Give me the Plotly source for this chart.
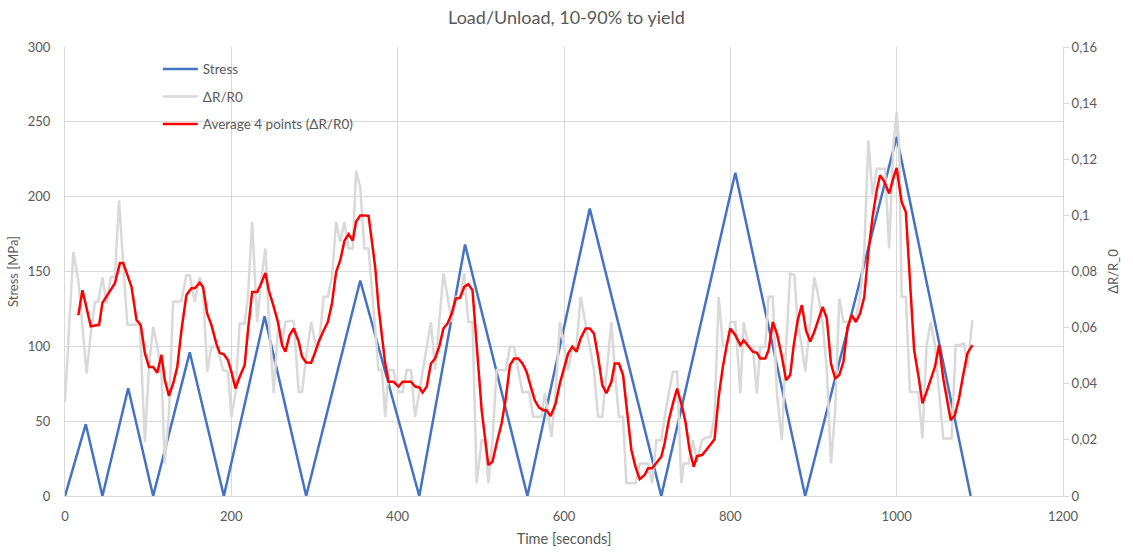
import plotly.graph_objects as go

# ---- Data ----
stress_t = [0, 25, 45, 76, 106, 150, 191, 240, 290, 355, 426, 481, 556, 631, 717, 806, 890, 1000, 1089]
stress_v = [0, 48, 0, 72, 0, 96, 0, 120, 0, 144, 0, 168, 0, 192, 0, 216, 0, 240, 0]

dr_t = [0, 10, 16, 20, 26, 31, 36, 40, 45, 50, 55, 60, 65, 70, 75, 80, 85, 90, 96, 101, 106, 111, 116, 120,
        125, 130, 135, 140, 146, 150, 156, 162, 166, 171, 176, 182, 185, 190, 196, 200, 205, 210, 216, 220,
        225, 231, 235, 241, 245, 251, 256, 261, 265, 270, 275, 281, 285, 290, 296, 301, 305, 311, 316, 321,
        326, 331, 336, 341, 346, 350, 355, 360, 365, 371, 377, 381, 385, 389, 395, 401, 406, 411, 416, 421,
        426, 430, 435, 440, 445, 450, 455, 460, 465, 470, 475, 480, 485, 490, 495, 501, 505, 509, 514, 519,
        525, 530, 535, 540, 545, 550, 555, 558, 563, 568, 573, 577, 581, 585, 590, 595, 600, 605, 610, 615,
        620, 626, 631, 636, 641, 646, 651, 657, 661, 666, 671, 675, 681, 686, 691, 697, 701, 706, 711, 717,
        721, 726, 731, 736, 741, 744, 750, 755, 760, 766, 771, 776, 781, 786, 791, 796, 800, 806, 812, 816,
        822, 827, 832, 836, 842, 846, 851, 856, 862, 867, 872, 877, 881, 886, 890, 896, 901, 906, 911, 916,
        921, 926, 931, 936, 941, 946, 951, 956, 961, 966, 971, 976, 981, 986, 991, 996, 1000, 1003, 1006, 1011,
        1016, 1021, 1026, 1031, 1036, 1041, 1046, 1051, 1056, 1061, 1066, 1071, 1076, 1081, 1085, 1091]
dr_v = [0.0336, 0.087, 0.0769, 0.0638, 0.0437, 0.058, 0.0692, 0.0692, 0.078, 0.0686, 0.078, 0.078, 0.1054, 0.0828,
        0.061, 0.061, 0.061, 0.061, 0.0193, 0.046, 0.0603, 0.0532, 0.0437, 0.0116,
        0.0294, 0.0692, 0.0692, 0.0695, 0.0787, 0.0787, 0.0692, 0.078, 0.0733, 0.0443, 0.0532, 0.0532, 0.051, 0.0449,
        0.0443, 0.0282, 0.0366, 0.0615, 0.0615, 0.071,
        0.0977, 0.062, 0.0745, 0.0882, 0.0638, 0.0366, 0.0591, 0.0544, 0.062, 0.0624, 0.0624, 0.0371, 0.0371, 0.0496,
        0.062, 0.0544, 0.0526, 0.071, 0.071, 0.078,
        0.0977, 0.0905, 0.0977, 0.0882, 0.0882, 0.116, 0.110, 0.0882, 0.0882, 0.068, 0.0449, 0.0449, 0.0282, 0.0449,
        0.0449, 0.0371, 0.0371, 0.0449, 0.0449, 0.0282,
        0.0371, 0.0449, 0.0532, 0.062, 0.0449, 0.062, 0.0793, 0.071, 0.062, 0.071, 0.071, 0.0793, 0.062, 0.062,
        0.0045, 0.0199, 0.0199, 0.0045, 0.0199, 0.0449,
        0.0449, 0.0449, 0.0532, 0.0532, 0.0449, 0.0371, 0.0371, 0.0371, 0.0282, 0.0282, 0.0282, 0.0366, 0.0282, 0.0211,
        0.0371, 0.062, 0.0532, 0.0449, 0.0532, 0.0532,
        0.071, 0.062, 0.0532, 0.0449, 0.0282, 0.0282, 0.0449, 0.062, 0.0449, 0.0282, 0.0282, 0.0045, 0.0045, 0.0045,
        0.0116, 0.0116, 0.0116, 0.0045, 0.0199, 0.0199,
        0.0282, 0.0366, 0.0443, 0.0443, 0.0045, 0.0116, 0.0116, 0.0199, 0.0122, 0.0199, 0.0209, 0.0209, 0.0282, 0.071,
        0.0538, 0.0532, 0.062, 0.062, 0.0366, 0.062,
        0.0532, 0.0532, 0.0366, 0.0532, 0.0532, 0.071, 0.071, 0.0366, 0.0199, 0.0532, 0.0793, 0.0787, 0.0615, 0.0532,
        0.0443, 0.0615, 0.078, 0.071, 0.0615, 0.0449,
        0.0116, 0.03, 0.0704, 0.062, 0.062, 0.0633, 0.0633, 0.071, 0.087, 0.1267, 0.1072, 0.1166, 0.1166, 0.1166,
        0.0882, 0.125, 0.1368, 0.125, 0.071, 0.071,
        0.0371, 0.0371, 0.0371, 0.0205, 0.0538, 0.062, 0.0538, 0.0371, 0.0205, 0.0205, 0.0205, 0.0538, 0.0538, 0.0544,
        0.0455, 0.0627]

avg_t = [16, 21, 31, 41, 45, 50, 55, 60, 66, 70, 80, 86, 91, 96, 101, 106, 111, 116, 120, 125, 130, 135, 140, 146,
         152, 156, 162, 166, 171, 176, 182, 186, 191, 196, 200, 205, 210, 216, 220, 225, 231, 235, 241, 245, 251,
         256, 261, 265, 270, 275, 281, 285, 290, 296, 301, 305, 311, 316, 321, 326, 331, 336, 341, 346, 350, 355,
         360, 365, 373, 377, 385, 389, 395, 401, 406, 411, 416, 421, 426, 430, 435, 440, 445, 450, 455, 460, 465,
         470, 475, 480, 485, 490, 495, 501, 509, 514, 519, 525, 530, 535, 540, 545, 550, 555, 560, 565, 570, 575,
         579, 584, 590, 595, 600, 605, 610, 615, 620, 626, 631, 636, 641, 646, 651, 657, 661, 666, 671, 675, 681,
         686, 691, 697, 701, 706, 711, 717, 721, 726, 731, 736, 742, 746, 751, 756, 760, 766, 771, 776, 781, 786,
         791, 796, 800, 806, 812, 816, 822, 827, 832, 836, 842, 846, 851, 856, 862, 867, 872, 876, 881, 886, 891,
         896, 901, 906, 911, 916, 921, 926, 931, 936, 941, 946, 951, 956, 961, 966, 971, 976, 980, 985, 991, 996,
         1000, 1003, 1006, 1011, 1016, 1021, 1026, 1031, 1036, 1041, 1046, 1051, 1056, 1061, 1065, 1070, 1075,
         1080, 1085, 1091]
avg_v = [0.0644, 0.0733, 0.0605, 0.061, 0.0688, 0.071, 0.0735, 0.0758, 0.083, 0.083, 0.0745, 0.0627, 0.061, 0.051,
         0.046, 0.046, 0.0439, 0.0503, 0.0413, 0.0357, 0.040, 0.046, 0.059, 0.0716,
         0.074, 0.074, 0.076, 0.0745, 0.065, 0.061, 0.0543, 0.051, 0.0505, 0.0484, 0.0443, 0.0383, 0.0425, 0.0466,
         0.059, 0.0727, 0.0727, 0.0751, 0.0795, 0.0733, 0.0674,
         0.062, 0.0538, 0.0514, 0.0573, 0.0597, 0.055, 0.0496, 0.0476, 0.0475, 0.0514, 0.055, 0.059, 0.062, 0.0686,
         0.0798, 0.084, 0.091, 0.0933, 0.091, 0.0977, 0.1,
         0.1, 0.0998, 0.0816, 0.0674, 0.0472, 0.0407, 0.0407, 0.039, 0.0407, 0.0407, 0.0407, 0.039, 0.0387, 0.0369,
         0.039, 0.0472, 0.049, 0.0532, 0.0597, 0.0615, 0.065,
         0.0704, 0.0706, 0.0745, 0.0755, 0.0733, 0.0543, 0.0306, 0.011, 0.0122, 0.0188, 0.0259, 0.0348, 0.0466, 0.049,
         0.049, 0.0472, 0.0443, 0.039, 0.034, 0.0315, 0.0306,
         0.0306, 0.0285, 0.033, 0.0401, 0.0455, 0.0508, 0.0532, 0.0514, 0.0561, 0.0597, 0.0597, 0.0579, 0.0496, 0.0395,
         0.0366, 0.0407, 0.0472, 0.0472, 0.0431, 0.033, 0.0164,
         0.0104, 0.006, 0.0075, 0.0099, 0.0099, 0.0116, 0.014, 0.0188, 0.027, 0.033, 0.0383, 0.0318, 0.0265, 0.0164,
         0.0104, 0.0142, 0.0146, 0.0164, 0.0182, 0.0202, 0.0353,
         0.046, 0.0543, 0.0597, 0.0573, 0.0538, 0.0555, 0.0532, 0.0514, 0.051, 0.049, 0.049, 0.052, 0.062, 0.0579,
         0.0496, 0.0413, 0.0431, 0.0532, 0.0627, 0.068, 0.059,
         0.055, 0.0585, 0.0627, 0.0674, 0.0633, 0.0472, 0.0419, 0.0431, 0.0478, 0.0603, 0.0644, 0.062, 0.065, 0.0709,
         0.087, 0.0994, 0.1089, 0.1143, 0.1121, 0.1078, 0.1133,
         0.1169, 0.1107, 0.1048, 0.1012, 0.0751, 0.052, 0.0431, 0.033, 0.0371, 0.0419, 0.046, 0.0538, 0.0419, 0.0336,
         0.027, 0.0288, 0.0348,
         0.0431, 0.0508, 0.0538]

x_ticks = [0, 200, 400, 600, 800, 1000, 1200]

# ---- Figure ----
FONT = "Lato, 'Open Sans', sans-serif"
TXT = "#595959"
GRID = "#d9d9d9"

fig = go.Figure()
fig.add_trace(go.Scatter(x=dr_t, y=dr_v, name="ΔR/R0", mode="lines", yaxis="y2", legendgroup="g2",
                         line=dict(color="#d9d9d9", width=2.5), legendrank=2))
fig.add_trace(go.Scatter(x=stress_t, y=stress_v, name="Stress", mode="lines", legendgroup="g1",
                         line=dict(color="#4472C4", width=2.5), legendrank=1))
fig.add_trace(go.Scatter(x=avg_t, y=avg_v, name="Average 4 points (ΔR/R0)", mode="lines", yaxis="y2",
                         legendgroup="g3", line=dict(color="#ff0000", width=2.5), legendrank=3))

fig.update_layout(
    width=1133, height=554,
    margin=dict(l=65, r=70, t=47, b=58),
    paper_bgcolor="white", plot_bgcolor="white",
    separators=", ",
    font=dict(family=FONT, size=13, color=TXT),
    title=dict(text="Load/Unload, 10-90% to yield", x=0.5, xanchor="center", y=0.968, yanchor="middle",
               font=dict(family=FONT, size=18, color=TXT)),
    xaxis=dict(range=[0, 1200], tickvals=x_ticks, showgrid=True, gridcolor=GRID, gridwidth=1,
               zeroline=False, showline=True, linecolor=GRID, linewidth=1, ticklabelstandoff=8,
               automargin=False,
               title=dict(text="Time [seconds]", font=dict(size=14.5, color=TXT), standoff=11),
               tickfont=dict(size=13, color=TXT), ticks=""),
    yaxis=dict(range=[0, 300], dtick=50, showgrid=True, gridcolor=GRID, gridwidth=1,
               zeroline=False, showline=True, linecolor=GRID, ticks="", ticklabelstandoff=11,
               automargin=False,
               title=dict(text="Stress [MPa]", font=dict(size=13, color=TXT), standoff=6),
               tickfont=dict(size=13, color=TXT)),
    yaxis2=dict(range=[0, 0.16], dtick=0.02, overlaying="y", side="right", showgrid=False,
                zeroline=False, showline=True, linecolor=GRID, ticks="outside", ticklen=5,
                tickcolor=GRID, automargin=False,
                title=dict(text="ΔR/R_0", font=dict(size=13, color=TXT), standoff=12),
                tickfont=dict(size=13, color=TXT)),
    legend=dict(x=0.093, y=0.985, xanchor="left", yanchor="top", bgcolor="rgba(0,0,0,0)",
                font=dict(size=13.5, color=TXT), tracegroupgap=7, itemwidth=35),
    showlegend=True,
)

fig.write_html("out.html")
